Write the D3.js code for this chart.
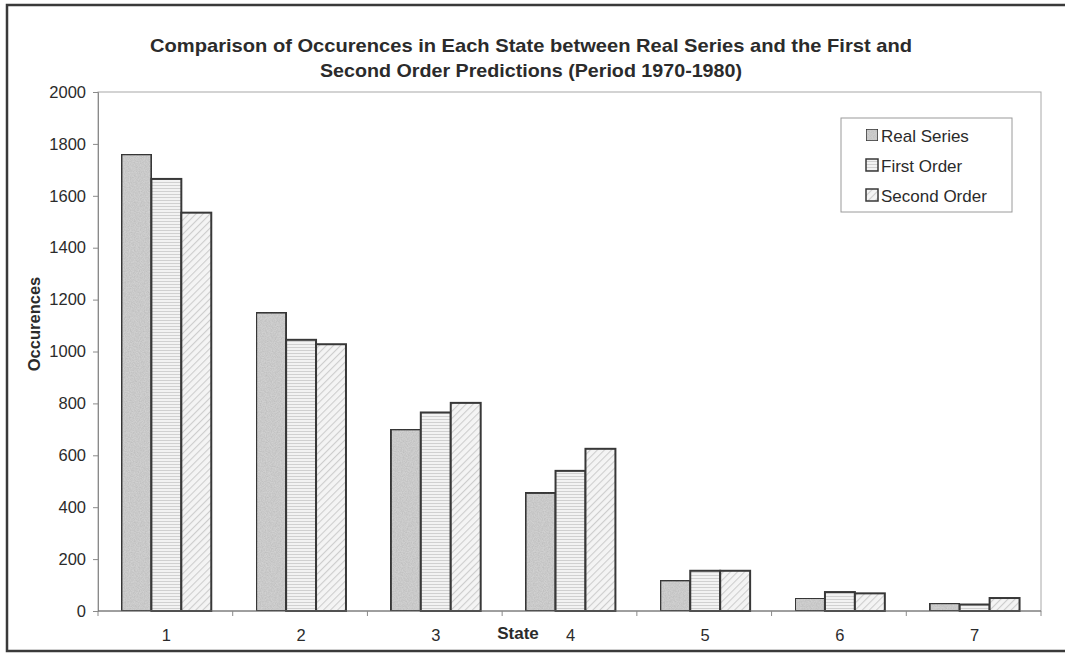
<!DOCTYPE html>
<html>
<head>
<meta charset="utf-8">
<script src="https://cdn.jsdelivr.net/npm/d3@7"></script>
<style>
  html, body { margin: 0; padding: 0; background: #ffffff; }
  svg { display: block; }
  text { font-family: "Liberation Sans", Arial, Helvetica, sans-serif; fill: #2b2b2b; }
</style>
</head>
<body>
<svg id="chart" width="1065" height="654"></svg>
<script>
// Occurrences per state, 1970-1980
const states = ["1", "2", "3", "4", "5", "6", "7"];
const seriesNames = ["Real Series", "First Order", "Second Order"];
const realSeries = [1760, 1150, 700, 455, 118, 50, 30];
const firstOrder = [1665, 1045, 765, 540, 155, 73, 25];
const secondOrder = [1535, 1028, 802, 625, 155, 68, 50];
const yTicks = [0, 200, 400, 600, 800, 1000, 1200, 1400, 1600, 1800, 2000];
const titleLines = [
  "Comparison of Occurences in Each State between Real Series and the First and",
  "Second Order Predictions (Period 1970-1980)"
];

const seriesValues = [realSeries, firstOrder, secondOrder];
const rows = states.map((s, i) => ({
  state: s,
  values: seriesNames.map((name, k) => ({ name, value: seriesValues[k][i] }))
}));

const svg = d3.select("#chart");
const W = 1065, H = 654;
const plot = { left: 98, right: 1041, top: 92, bottom: 611 };

// ----- fills -----
const defs = svg.append("defs");

// grainy grey for the real series
const grain = defs.append("filter").attr("id", "grain")
  .attr("x", 0).attr("y", 0).attr("width", 1).attr("height", 1);
grain.append("feTurbulence").attr("type", "fractalNoise")
  .attr("baseFrequency", 0.8).attr("numOctaves", 2).attr("seed", 3).attr("result", "noise");
grain.append("feColorMatrix").attr("in", "noise").attr("type", "matrix")
  .attr("values", "0 0 0 0 0  0 0 0 0 0  0 0 0 0 0  0 0 0 0.3 -0.08").attr("result", "dots");
grain.append("feComposite").attr("in", "dots").attr("in2", "SourceGraphic")
  .attr("operator", "atop");

const hPat = defs.append("pattern").attr("id", "hstripe")
  .attr("patternUnits", "userSpaceOnUse").attr("width", 6).attr("height", 3);
hPat.append("rect").attr("width", 6).attr("height", 3).attr("fill", "#f2f2f2");
hPat.append("rect").attr("y", 2).attr("width", 6).attr("height", 1).attr("fill", "#d0d0d0");

const dPat = defs.append("pattern").attr("id", "dstripe")
  .attr("patternUnits", "userSpaceOnUse").attr("width", 5).attr("height", 5)
  .attr("patternTransform", "rotate(45)");
dPat.append("rect").attr("width", 5).attr("height", 5).attr("fill", "#f4f4f4");
dPat.append("rect").attr("x", 0).attr("width", 1.1).attr("height", 5).attr("fill", "#cdcdcd");

const fills = {
  "Real Series": "#d0d0d0",
  "First Order": "url(#hstripe)",
  "Second Order": "url(#dstripe)"
};

svg.append("rect").attr("width", W).attr("height", H).attr("fill", "#ffffff");

// outer chart frame
svg.append("rect")
  .attr("x", 7).attr("y", 5).attr("width", W + 10).attr("height", 646)
  .attr("fill", "none").attr("stroke", "#3a3a3a").attr("stroke-width", 2.5);

// ----- scales -----
const x0 = d3.scaleBand().domain(states).range([plot.left, plot.right]).padding(0);
const bw = x0.bandwidth();
const x1 = d3.scaleBand().domain(seriesNames).range([bw / 6 + 1, bw * 5 / 6 + 1]).padding(0);
const y = d3.scaleLinear().domain([0, 2000]).range([plot.bottom, plot.top]);

// plot area border
svg.append("rect")
  .attr("x", plot.left).attr("y", plot.top)
  .attr("width", plot.right - plot.left).attr("height", plot.bottom - plot.top)
  .attr("fill", "none").attr("stroke", "#a8a8a8").attr("stroke-width", 1);

// ----- bars -----
const groups = svg.append("g").selectAll("g").data(rows).join("g")
  .attr("transform", d => `translate(${x0(d.state)},0)`);

groups.selectAll("rect").data(d => d.values).join("rect")
  .attr("x", d => x1(d.name))
  .attr("y", d => y(d.value))
  .attr("width", x1.bandwidth())
  .attr("height", d => y(0) - y(d.value))
  .attr("fill", d => fills[d.name])
  .attr("filter", d => d.name === "Real Series" ? "url(#grain)" : null)
  .attr("stroke", "#383838")
  .attr("stroke-width", 2);

// ----- y axis -----
const yAxis = svg.append("g")
  .attr("transform", `translate(${plot.left},0)`)
  .call(d3.axisLeft(y).tickValues(yTicks).tickSize(5).tickPadding(7).tickFormat(d3.format("d")));
yAxis.select(".domain").attr("stroke", "#8a8a8a");
yAxis.selectAll(".tick line").attr("stroke", "#8a8a8a");
yAxis.selectAll(".tick text")
  .style("font-family", "'Liberation Sans', Arial, sans-serif")
  .style("font-size", "16.5px").attr("fill", "#333");

// ----- x axis: baseline with ticks between categories -----
const xAxisG = svg.append("g");
xAxisG.append("line")
  .attr("x1", plot.left).attr("x2", plot.right)
  .attr("y1", y(0)).attr("y2", y(0))
  .attr("stroke", "#6a6a6a").attr("stroke-width", 1.2);
const boundaries = states.map(s => x0(s)).concat([plot.right]);
xAxisG.selectAll("line.tk").data(boundaries).join("line").attr("class", "tk")
  .attr("x1", d => d).attr("x2", d => d)
  .attr("y1", y(0)).attr("y2", y(0) + 5)
  .attr("stroke", "#8a8a8a");
xAxisG.selectAll("text").data(states).join("text")
  .attr("x", d => x0(d) + bw / 2 + 1)
  .attr("y", 641)
  .attr("text-anchor", "middle")
  .style("font-size", "16.5px")
  .attr("fill", "#333")
  .text(d => d);

// axis titles
svg.append("text")
  .attr("x", 518).attr("y", 639)
  .attr("text-anchor", "middle")
  .style("font-size", "17px").style("font-weight", "bold")
  .text("State");

svg.append("text")
  .attr("transform", "translate(40,324) rotate(-90)")
  .attr("text-anchor", "middle")
  .style("font-size", "16.5px").style("font-weight", "bold")
  .text("Occurences");

// chart title
const titleWidths = [762, 422];
svg.append("g").selectAll("text").data(titleLines).join("text")
  .attr("x", 531)
  .attr("y", (d, i) => 52 + i * 25)
  .attr("text-anchor", "middle")
  .attr("textLength", (d, i) => titleWidths[i])
  .attr("lengthAdjust", "spacingAndGlyphs")
  .style("font-size", "18.5px").style("font-weight", "bold")
  .text(d => d);

// ----- legend -----
const legend = svg.append("g").attr("transform", "translate(841,118)");
legend.append("rect")
  .attr("width", 171).attr("height", 94)
  .attr("fill", "#ffffff").attr("stroke", "#9a9a9a").attr("stroke-width", 1);
const items = legend.selectAll("g.item").data(seriesNames).join("g").attr("class", "item")
  .attr("transform", (d, i) => `translate(25,${17 + i * 30})`);
items.append("rect")
  .attr("x", 0).attr("y", -6).attr("width", 12).attr("height", 12)
  .attr("fill", d => fills[d])
  .attr("filter", d => d === "Real Series" ? "url(#grain)" : null)
  .attr("stroke", "#383838").attr("stroke-width", 1.5);
items.append("text")
  .attr("x", 15).attr("y", 6.5)
  .style("font-size", "17px")
  .attr("fill", "#222")
  .text(d => d);
</script>
</body>
</html>
